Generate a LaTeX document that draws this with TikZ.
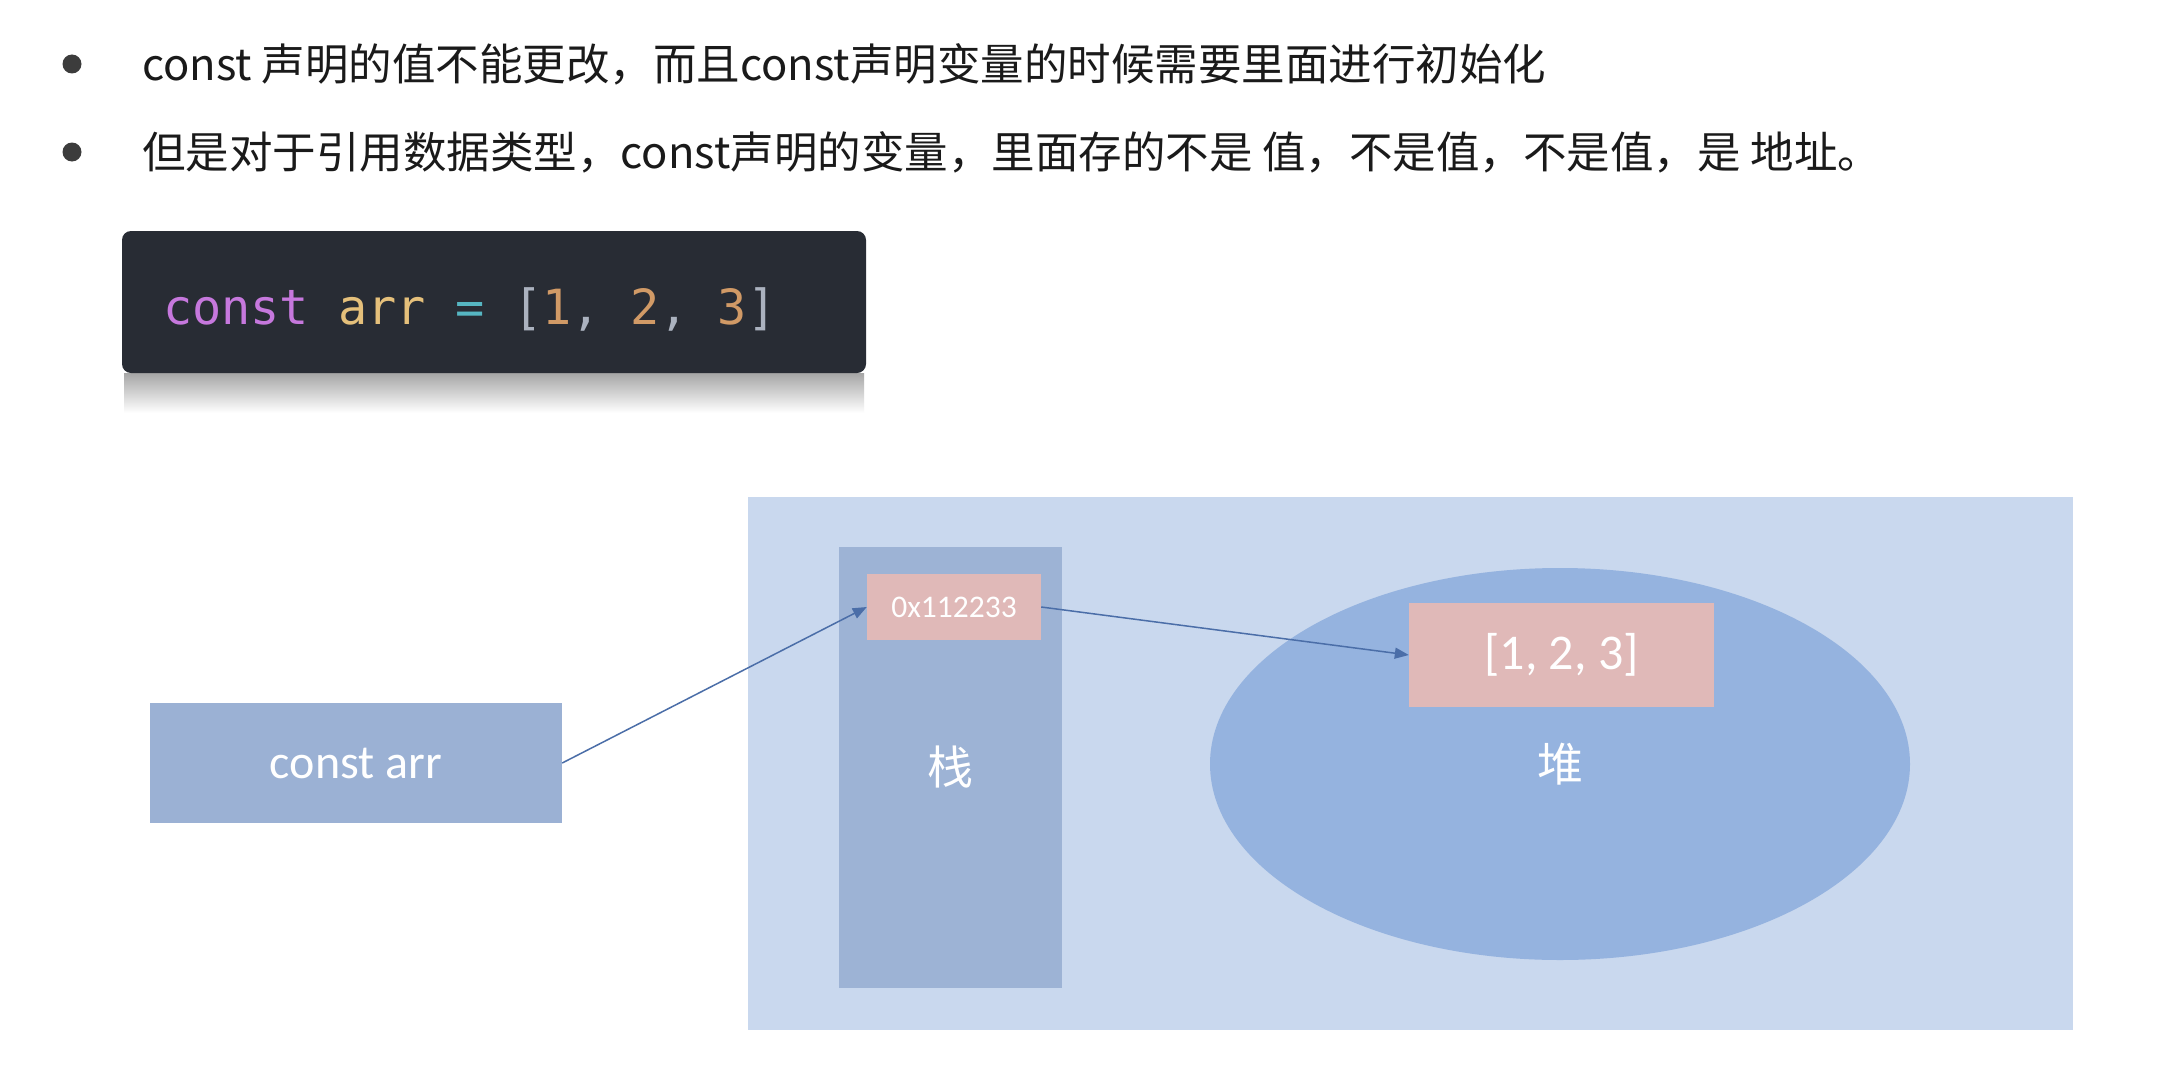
\documentclass[tikz,border=0pt]{standalone}
\usepackage{fontspec}
\setmainfont{Carlito}
\newfontfamily\cjk{Noto Sans CJK SC}
\newfontfamily\codefont{DejaVu Sans Mono}
\usetikzlibrary{arrows.meta,shapes.geometric}
\definecolor{txtdark}{RGB}{26,26,26}
\definecolor{bulletc}{RGB}{60,60,60}
\definecolor{codebg}{RGB}{40,44,52}
\definecolor{ckw}{RGB}{198,120,221}
\definecolor{cvar}{RGB}{229,192,123}
\definecolor{cop}{RGB}{86,182,194}
\definecolor{cpun}{RGB}{171,178,191}
\definecolor{cnum}{RGB}{209,154,102}
\definecolor{memlight}{RGB}{201,216,238}
\definecolor{stackc}{RGB}{157,179,213}
\definecolor{pinkc}{RGB}{224,185,184}
\definecolor{heapc}{RGB}{149,179,223}
\definecolor{arrc}{RGB}{155,177,212}
\definecolor{linec}{RGB}{75,110,168}
\tikzset{
  bulletdot/.style={circle,fill=bulletc,minimum size=19pt,inner sep=0pt},
  slidetext/.style={anchor=west,inner sep=0pt,text=txtdark,font=\cjk\fontsize{43.5}{52}\selectfont},
  plainbox/.style={rectangle,inner sep=0pt,draw=none},
  whitelabel/.style={text=white},
  conn/.style={draw=linec,line width=1.5pt,-{Triangle[length=14pt,width=11pt]}}
}
\begin{document}
\begin{tikzpicture}[x=1pt,y=-1pt]
\useasboundingbox[fill=white] (0,0) rectangle (2183,1070);

% bullets and text
\node[bulletdot] (b1) at (72,64) {};
\node[slidetext] (t1) at (142,64) {const 声明的值不能更改，而且const声明变量的时候需要里面进行初始化};
\node[bulletdot] (b2) at (72,152) {};
\node[slidetext] (t2) at (142,152) {但是对于引用数据类型，const声明的变量，里面存的不是 值，不是值，不是值，是 地址。};

% code box with reflection
\shade[top color=black!35, bottom color=white] (124,373) rectangle (864,413);
\node[plainbox,fill=codebg,rounded corners=9pt,minimum width=744pt,minimum height=142pt] (code) at (494,302) {};
\node[anchor=west,inner sep=0pt,font=\codefont\fontsize{48.5}{56}\selectfont] (codetxt) at (163,309)
  {\textcolor{ckw}{const} \textcolor{cvar}{arr} \textcolor{cop}{=} \textcolor{cpun}{[}\textcolor{cnum}{1}\textcolor{cpun}{,} \textcolor{cnum}{2}\textcolor{cpun}{,} \textcolor{cnum}{3}\textcolor{cpun}{]}};

% memory area
\node[plainbox,fill=memlight,minimum width=1325pt,minimum height=533pt] (mem) at (1410.5,763.5) {};
\node[plainbox,fill=stackc,minimum width=223pt,minimum height=441pt,whitelabel,font=\cjk\fontsize{46}{54}\selectfont] (stack) at (950.5,767.5) {栈};
\node[plainbox,fill=pinkc,minimum width=174pt,minimum height=66pt,whitelabel,font=\fontsize{31.5}{36}\selectfont] (addr) at (954,607) {0x112233};
\node[ellipse,inner sep=0pt,fill=heapc,minimum width=700pt,minimum height=392pt,whitelabel,font=\cjk\fontsize{46}{54}\selectfont] (heap) at (1560,764) {堆};
\node[plainbox,fill=pinkc,minimum width=305pt,minimum height=104pt,whitelabel,font=\fontsize{50}{58}\selectfont] (val) at (1561.5,655) {[1, 2, 3]};

% variable box
\node[plainbox,fill=arrc,minimum width=412pt,minimum height=120pt,whitelabel,font=\fontsize{48}{56}\selectfont] (arr) at (356,763) {const arr};

% connectors
\draw[conn] (arr.east) -- (addr.west);
\draw[conn] (addr.east) -- (val.west);
\end{tikzpicture}
\end{document}
